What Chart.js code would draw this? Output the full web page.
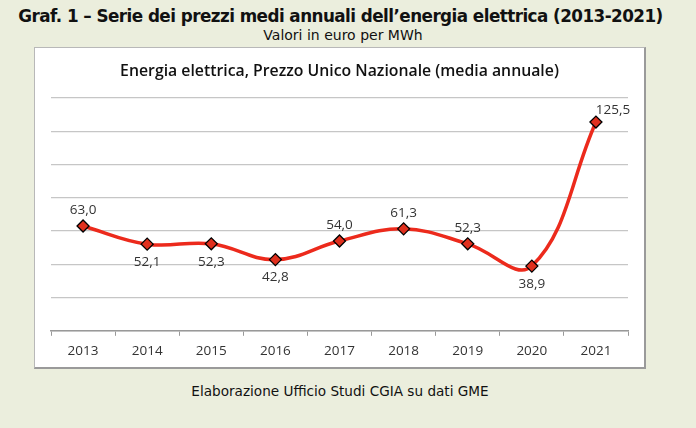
<!DOCTYPE html>
<html>
<head>
<meta charset="utf-8">
<script src="https://cdn.jsdelivr.net/npm/chart.js@4"></script>
<style>
  body { margin: 0; background: #ebeedd; width: 696px; height: 428px; overflow: hidden; font-family: "DejaVu Sans", Verdana, sans-serif; position: relative; }
  #title { position: absolute; top: 6px; left: 0; width: 681px; text-align: center; font-weight: bold; font-size: 16.8px; color: #111; letter-spacing: -0.55px; }
  #subtitle { position: absolute; top: 27px; left: 0; width: 686px; text-align: center; font-size: 14px; color: #111; }
  #box { position: absolute; left: 34px; top: 47px; width: 609px; height: 319px; background: #fff; border: 1px solid #b8b8b8; border-right: 2px solid #9a9a9a; border-bottom: 2px solid #9a9a9a; }
  #footer { position: absolute; top: 383px; left: 0; width: 680px; text-align: center; font-size: 13.6px; color: #111; }
</style>
</head>
<body>
<div id="title">Graf. 1 – Serie dei prezzi medi annuali dell’energia elettrica (2013-2021)</div>
<div id="subtitle">Valori in euro per MWh</div>
<div id="box"><canvas id="myChart" width="609" height="319"></canvas></div>
<div id="footer">Elaborazione Ufficio Studi CGIA su dati GME</div>
<script>
const years = ["2013", "2014", "2015", "2016", "2017", "2018", "2019", "2020", "2021"];
const prices = [63.0, 52.1, 52.3, 42.8, 54.0, 61.3, 52.3, 38.9, 125.5];
const labelSide = ["above", "below", "below", "below", "above", "above", "above", "below", "right"];
const yTicks = { min: 0, max: 140, step: 20 };

// etichette dei valori (virgola decimale)
const valueLabels = {
  id: "valueLabels",
  afterDatasetsDraw(chart) {
    const ctx = chart.ctx;
    const meta = chart.getDatasetMeta(0);
    ctx.save();
    ctx.font = "13.5px 'Open Sans'";
    ctx.fillStyle = "#333";
    ctx.textAlign = "center";
    ctx.textBaseline = "middle";
    meta.data.forEach((pt, i) => {
      let txt = prices[i].toFixed(1).replace(".", ",");
      let x = pt.x, y = pt.y;
      if (labelSide[i] == "above") y -= 16;
      else if (labelSide[i] == "below") y += 18;
      else { x += 17; y -= 12; }
      ctx.fillText(txt, x, y);
    });
    ctx.restore();
  }
};

const ctx = document.getElementById("myChart").getContext("2d");
new Chart(ctx, {
  type: "line",
  data: {
    labels: years,
    datasets: [{
      data: prices,
      borderColor: "#ec2a1c",
      borderWidth: 3.5,
      tension: 0.4,
      pointStyle: "rectRot",
      pointRadius: 6,
      pointBackgroundColor: "#e0301e",
      pointBorderColor: "#000",
      pointBorderWidth: 1.3,
      clip: false
    }]
  },
  options: {
    responsive: false,
    animation: false,
    layout: { padding: { left: 16, right: 16, top: 0, bottom: 1 } },
    plugins: {
      legend: { display: false },
      tooltip: { enabled: false },
      title: {
        display: true,
        text: "Energia elettrica, Prezzo Unico Nazionale (media annuale)",
        color: "#111",
        font: { family: "Open Sans", size: 15.8, weight: "600" },
        padding: { top: 14, bottom: 17 }
      }
    },
    scales: {
      x: {
        offset: true,
        grid: { offset: true, drawOnChartArea: false, tickLength: 5, color: "#999" },
        border: { color: "#999", width: 1.5 },
        ticks: { color: "#333", padding: 7, font: { family: "Open Sans", size: 13.5 } }
      },
      y: {
        min: yTicks.min,
        max: yTicks.max,
        afterFit(scale) { scale.width = 0; },
        ticks: { display: false, stepSize: yTicks.step },
        border: { display: false },
        grid: { color: "#c6c6c6", lineWidth: 1.3, drawTicks: false }
      }
    }
  },
  plugins: [valueLabels]
});
</script>
</body>
</html>
